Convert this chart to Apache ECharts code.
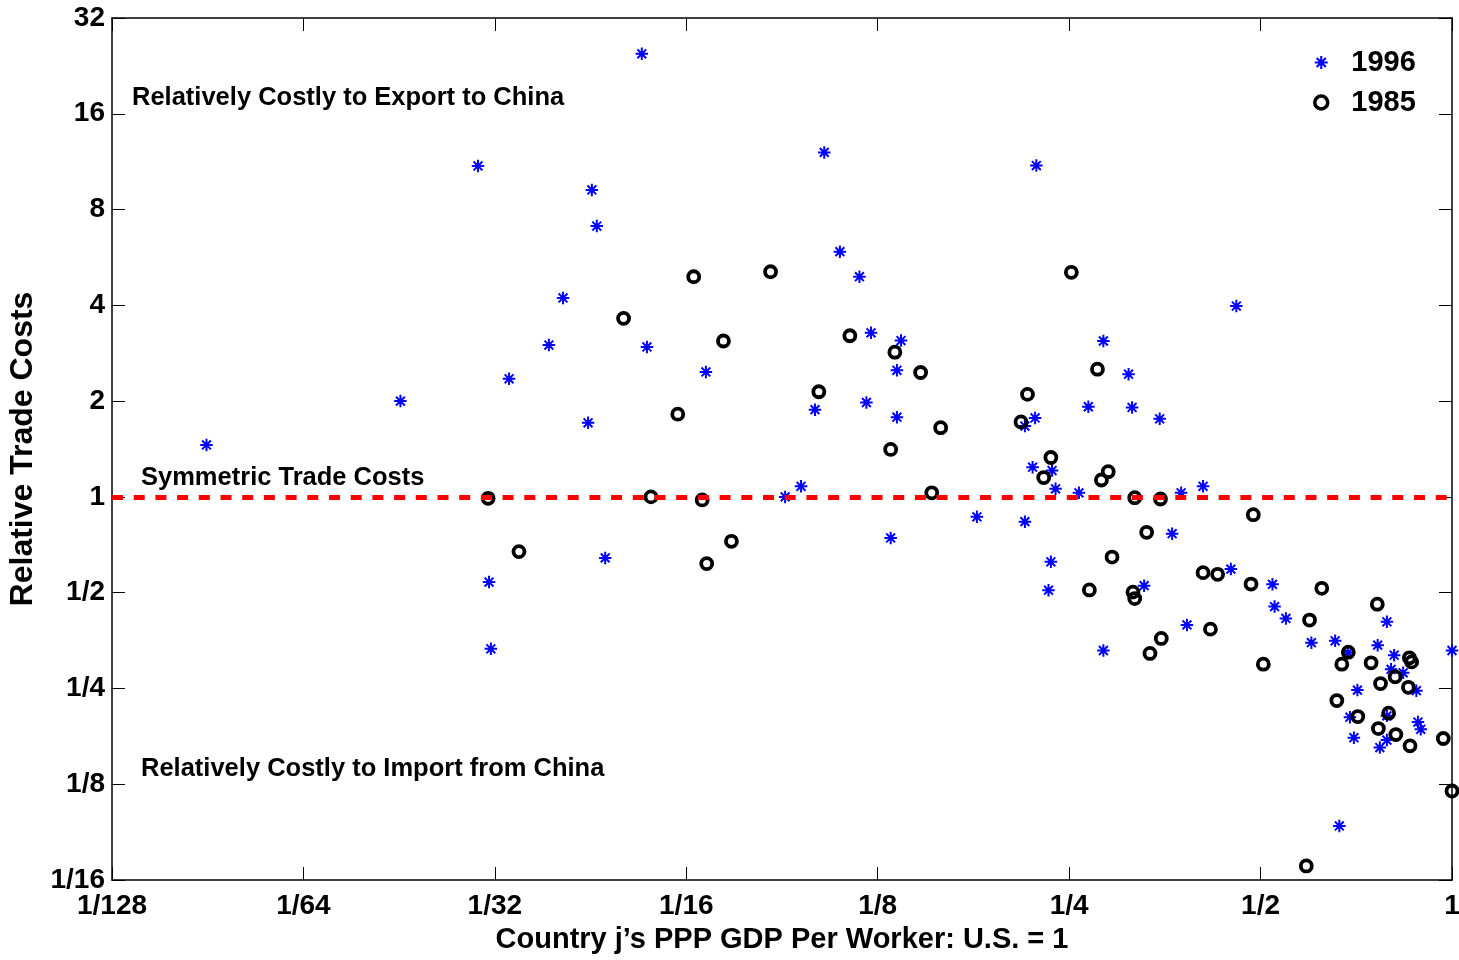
<!DOCTYPE html>
<html>
<head>
<meta charset="utf-8">
<title>Relative Trade Costs</title>
<script src="https://cdn.jsdelivr.net/npm/echarts@6/dist/echarts.min.js"></script>
<style>
  html, body { margin: 0; padding: 0; background: #fff; }
  #chart { width: 1459px; height: 960px; }
</style>
</head>
<body>
<div id="chart"></div>
<script>
// Country j's PPP GDP per worker (U.S. = 1) and relative trade costs, 1996
const gdp1996 = [0.0110, 0.0222, 0.0294, 0.0329, 0.0380, 0.0400, 0.0444, 0.0452, 0.0532, 0.0542,
  0.0438, 0.0466, 0.0306, 0.0308, 0.0671, 0.0894, 0.0947, 0.0996, 0.103, 0.109,
  0.117, 0.120, 0.122, 0.134, 0.136, 0.134, 0.131, 0.179, 0.213, 0.213,
  0.221, 0.222, 0.219, 0.235, 0.238, 0.234, 0.232, 0.259, 0.268, 0.283,
  0.310, 0.314, 0.347, 0.283, 0.328, 0.363, 0.375, 0.406, 0.383, 0.449,
  0.458, 0.522, 0.526, 0.548, 0.601, 0.655, 0.686, 0.764, 0.790, 0.811,
  0.802, 0.838, 0.879, 0.710, 0.691, 0.790, 0.884, 0.893, 0.701, 0.790,
  0.770, 1.00, 0.665];
const cost1996 = [1.456, 2.00, 10.97, 2.35, 3.00, 4.22, 9.22, 7.10, 24.7, 2.96,
  1.71, 0.643, 0.540, 0.333, 2.47, 1.00, 1.08, 1.88, 12.1, 5.90,
  4.92, 1.98, 3.28, 2.50, 3.10, 1.78, 0.743, 0.866, 0.836, 1.67,
  1.77, 11.0, 1.24, 1.21, 1.06, 0.625, 0.509, 1.03, 1.92, 3.09,
  2.43, 1.91, 1.76, 0.329, 0.526, 0.766, 1.03, 1.08, 0.396, 0.593,
  3.98, 0.531, 0.452, 0.415, 0.348, 0.353, 0.324, 0.342, 0.405, 0.318,
  0.287, 0.280, 0.246, 0.247, 0.203, 0.205, 0.196, 0.186, 0.175, 0.172,
  0.163, 0.329, 0.0924];

// Same measures, 1985
const gdp1985 = [0.0305, 0.0341, 0.0550, 0.0662, 0.0673, 0.0736, 0.0606, 0.0498, 0.0642, 0.0715,
  0.0848, 0.113, 0.133, 0.146, 0.101, 0.157, 0.131, 0.152, 0.215, 0.210,
  0.234, 0.228, 0.252, 0.277, 0.288, 0.281, 0.317, 0.348, 0.331, 0.292,
  0.269, 0.315, 0.317, 0.406, 0.428, 0.349, 0.335, 0.487, 0.483, 0.624,
  0.597, 0.417, 0.505, 0.763, 0.687, 0.857, 0.864, 0.671, 0.746, 0.814,
  0.772, 0.854, 0.659, 0.711, 0.795, 0.766, 0.816, 0.859, 0.969, 1.00,
  0.590];
const cost1985 = [0.990, 0.673, 1.00, 0.978, 0.617, 0.725, 1.82, 3.64, 4.92, 3.09,
  5.10, 3.21, 2.85, 2.46, 2.14, 1.65, 1.41, 1.03, 2.10, 1.72,
  1.33, 1.15, 5.08, 2.52, 1.20, 1.13, 0.994, 0.985, 0.774, 0.647,
  0.510, 0.502, 0.479, 0.578, 0.571, 0.359, 0.322, 0.879, 0.532, 0.516,
  0.410, 0.384, 0.298, 0.460, 0.325, 0.312, 0.303, 0.298, 0.301, 0.272,
  0.259, 0.252, 0.229, 0.204, 0.209, 0.187, 0.179, 0.165, 0.174, 0.119,
  0.0692];

const xTickLabels = ['1/128', '1/64', '1/32', '1/16', '1/8', '1/4', '1/2', '1'];
const yTickLabels = ['1/16', '1/8', '1/4', '1/2', '1', '2', '4', '8', '16', '32'];
const symmetricLevel = 1;

const FONT = '"Liberation Sans", Arial, Helvetica, sans-serif';

// asterisk marker: vertical, horizontal and two diagonal strokes, all wound the same way
const ASTERISK = 'path://M42 0L58 0L58 100L42 100Z' +
  'M0 42L100 42L100 58L0 58Z' +
  'M20.3 8.98L91.02 79.7L79.7 91.02L8.98 20.3Z' +
  'M91.02 20.3L20.3 91.02L8.98 79.7L79.7 8.98Z';

const pairs = (xs, ys) => xs.map((x, i) => [x, ys[i]]);

const xFmt = v => xTickLabels[Math.round(Math.log2(v)) + 7];
const yFmt = v => yTickLabels[Math.round(Math.log2(v)) + 4];

const tickStyle = { show: true, inside: true, length: 13, lineStyle: { color: '#000', width: 1 } };
const lineStyle = { show: true, lineStyle: { color: '#000', width: 1.5 } };

const chart = echarts.init(document.getElementById('chart'), null, { renderer: 'canvas' });

chart.setOption({
  animation: false,
  backgroundColor: '#fff',
  grid: { left: 112, right: 7, top: 18, bottom: 80, containLabel: false, outerBoundsMode: 'none' },
  xAxis: [{
    type: 'log', logBase: 2, min: 1 / 128, max: 1, splitNumber: 7,
    position: 'bottom',
    name: "Country j\u2019s PPP GDP Per Worker: U.S. = 1",
    nameLocation: 'middle', nameGap: 45,
    nameTextStyle: { fontFamily: FONT, fontWeight: 'bold', fontSize: 29, color: '#000' },
    axisLine: lineStyle, axisTick: tickStyle, splitLine: { show: false }, minorTick: { show: false },
    axisLabel: { formatter: xFmt, fontFamily: FONT, fontWeight: 'bold', fontSize: 28, color: '#000', margin: 12 }
  }, {
    type: 'log', logBase: 2, min: 1 / 128, max: 1, splitNumber: 7,
    position: 'top',
    axisLine: lineStyle, axisTick: tickStyle, splitLine: { show: false },
    axisLabel: { show: false }
  }],
  yAxis: [{
    type: 'log', logBase: 2, min: 1 / 16, max: 32, splitNumber: 9,
    position: 'left',
    name: 'Relative Trade Costs',
    nameLocation: 'middle', nameGap: 68,
    nameTextStyle: { fontFamily: FONT, fontWeight: 'bold', fontSize: 32, color: '#000' },
    axisLine: lineStyle, axisTick: tickStyle, splitLine: { show: false },
    axisLabel: { formatter: yFmt, fontFamily: FONT, fontWeight: 'bold', fontSize: 28, color: '#000', margin: 7 }
  }, {
    type: 'log', logBase: 2, min: 1 / 16, max: 32, splitNumber: 9,
    position: 'right',
    axisLine: lineStyle, axisTick: tickStyle, splitLine: { show: false },
    axisLabel: { show: false }
  }],
  legend: {
    orient: 'vertical',
    left: 1308, top: 43,
    itemWidth: 22, itemHeight: 13, itemGap: 11,
    textStyle: { fontFamily: FONT, fontWeight: 'bold', fontSize: 29, color: '#000', padding: [0, 0, 0, 14] },
    data: [
      { name: '1996', itemStyle: { borderWidth: 0 } },
      { name: '1985', itemStyle: { color: 'rgba(0,0,0,0)', borderColor: '#000', borderWidth: 3.5 } }
    ]
  },
  graphic: [
    { type: 'text', left: 132, top: 85, style: { text: 'Relatively Costly to Export to China', font: 'bold 25.5px ' + FONT, fill: '#000' } },
    { type: 'text', left: 141, top: 465, style: { text: 'Symmetric Trade Costs', font: 'bold 25.5px ' + FONT, fill: '#000' } },
    { type: 'text', left: 141, top: 756, style: { text: 'Relatively Costly to Import from China', font: 'bold 25.5px ' + FONT, fill: '#000' } }
  ],
  series: [{
    name: '1996',
    type: 'scatter',
    xAxisIndex: 0, yAxisIndex: 0,
    clip: false,
    symbol: ASTERISK,
    symbolSize: 12.5,
    symbolKeepAspect: true,
    itemStyle: { color: '#0000ff', opacity: 1 },
    data: pairs(gdp1996, cost1996)
  }, {
    name: '1985',
    type: 'scatter',
    xAxisIndex: 0, yAxisIndex: 0,
    clip: false,
    symbol: 'circle',
    symbolSize: 11,
    symbolKeepAspect: true,
    itemStyle: { color: 'rgba(0,0,0,0)', borderColor: '#000', borderWidth: 3.8, opacity: 1 },
    data: pairs(gdp1985, cost1985),
    markLine: {
      silent: true,
      symbol: 'none',
      label: { show: false },
      lineStyle: { color: '#ff0000', width: 5, type: [11, 10.7], opacity: 1 },
      data: [{ yAxis: symmetricLevel }]
    }
  }]
});
</script>
</body>
</html>
